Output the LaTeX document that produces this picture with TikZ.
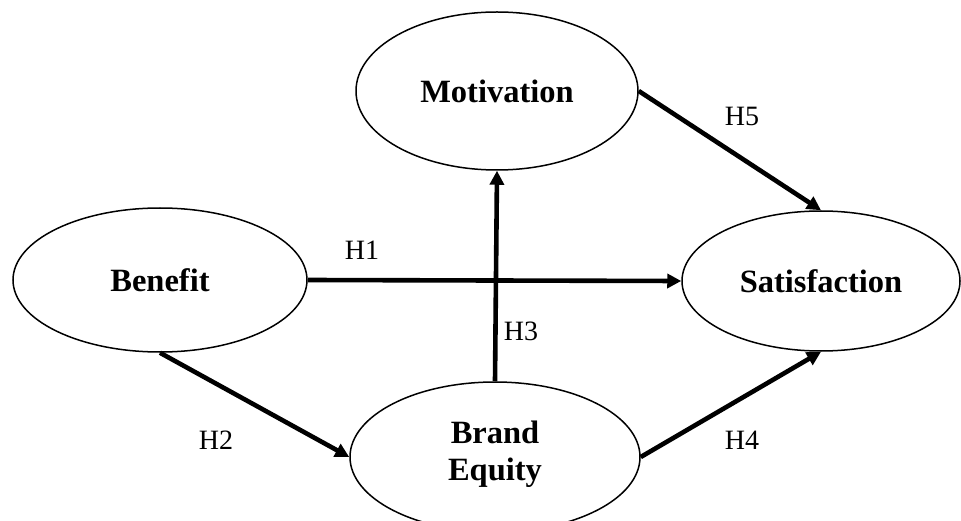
\documentclass[tikz,border=0pt]{standalone}
\usepackage{fontspec}
\setmainfont{Liberation Serif}
\usetikzlibrary{shapes.geometric,arrows.meta}
\begin{document}
\begin{tikzpicture}[x=1pt,y=-1pt,
  construct/.style={ellipse,draw,line width=1.5pt,inner sep=0pt,
    font=\fontsize{32.5}{37}\selectfont\bfseries,align=center},
  path/.style={line width=4.6pt,-{Triangle[length=14pt,width=14pt]}},
  hyp/.style={font=\fontsize{28}{30}\selectfont}]
  \useasboundingbox (0,0) rectangle (961,521);
  \clip (0,0) rectangle (961,521);

  % latent constructs
  \node[construct,minimum width=282pt,minimum height=158pt] (mot) at (497,91) {Motivation};
  \node[construct,minimum width=294pt,minimum height=144pt] (ben) at (160,280) {Benefit};
  \node[construct,minimum width=278pt,minimum height=140pt] (sat) at (821,281) {Satisfaction};
  \node[construct,minimum width=290pt,minimum height=150pt] (be) at (495,457) {};
  \node[font=\fontsize{32.5}{37}\selectfont\bfseries,align=center] (betext) at (495,454) {Brand\\Equity};

  % hypothesised paths
  \draw[path] (ben.east) -- (sat.west);
  \draw[path] (ben.south) -- (be.west);
  \draw[path] (be.north) -- (mot.south);
  \draw[path] (be.east) -- (sat.south);
  \draw[path] (mot.east) -- (sat.north);

  % path labels
  \node[hyp] (h1) at (362,250) {H1};
  \node[hyp] (h2) at (216,440) {H2};
  \node[hyp] (h3) at (521,331) {H3};
  \node[hyp] (h4) at (742,440) {H4};
  \node[hyp] (h5) at (742,116) {H5};
\end{tikzpicture}
\end{document}
